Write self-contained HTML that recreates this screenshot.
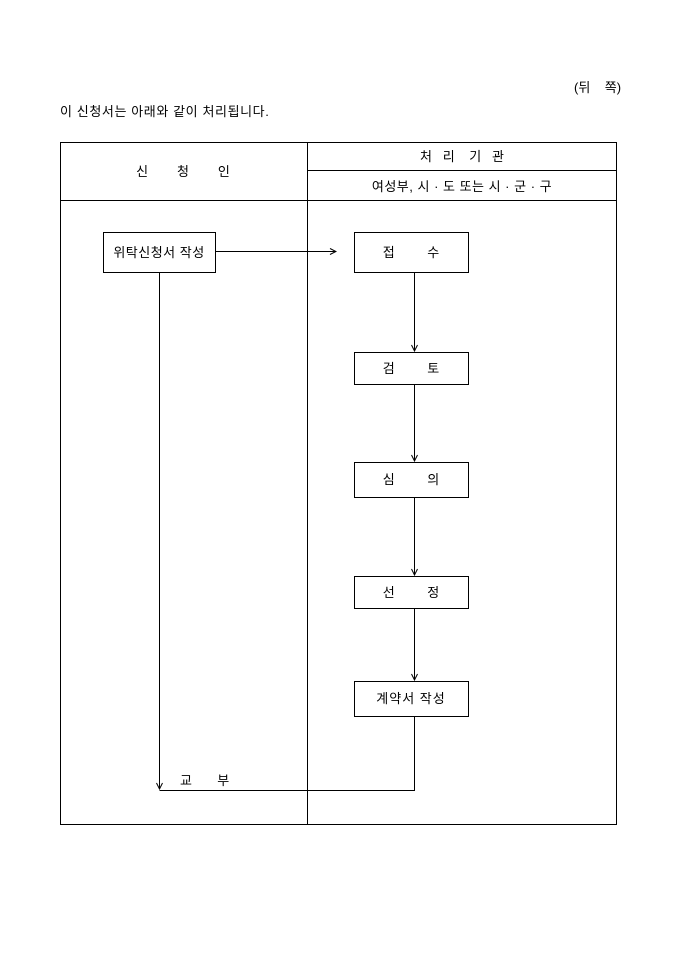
<!DOCTYPE html>
<html><head><meta charset="utf-8"><style>
html,body{margin:0;padding:0;background:#fff;}
svg text{font-family:"Liberation Sans","Noto Sans CJK KR",sans-serif;font-size:13px;fill:#000;}
</style></head><body>
<svg width="680" height="962" viewBox="0 0 680 962" xmlns="http://www.w3.org/2000/svg">
<defs><marker id="a" markerWidth="8" markerHeight="8" refX="7" refY="4" orient="auto" markerUnits="userSpaceOnUse"><path d="M1,1 L7,4 L1,7" fill="none" stroke="#000" stroke-width="1"/></marker></defs>
<text x="574" y="92" xml:space="preserve">(뒤    쪽)</text>
<text x="60" y="116" letter-spacing="0.6">이 신청서는 아래와 같이 처리됩니다.</text>
<g stroke="#000" stroke-width="1" fill="none">
<rect x="60.5" y="142.5" width="556" height="682"/>
<line x1="307.5" y1="142" x2="307.5" y2="824"/>
<line x1="307" y1="170.5" x2="616" y2="170.5"/>
<line x1="60" y1="200.5" x2="616" y2="200.5"/>
<rect x="103.5" y="232.5" width="112" height="40"/>
<rect x="354.5" y="232.5" width="114" height="40"/>
<rect x="354.5" y="352.5" width="114" height="32"/>
<rect x="354.5" y="462.5" width="114" height="35"/>
<rect x="354.5" y="576.5" width="114" height="32"/>
<rect x="354.5" y="681.5" width="114" height="35"/>
<line x1="215" y1="251.5" x2="336" y2="251.5" marker-end="url(#a)"/>
<line x1="414.5" y1="272" x2="414.5" y2="351" marker-end="url(#a)"/>
<line x1="414.5" y1="384" x2="414.5" y2="461" marker-end="url(#a)"/>
<line x1="414.5" y1="497" x2="414.5" y2="575" marker-end="url(#a)"/>
<line x1="414.5" y1="608" x2="414.5" y2="680" marker-end="url(#a)"/>
<polyline points="414.5,716 414.5,790.5 159.5,790.5"/>
<line x1="159.5" y1="272" x2="159.5" y2="789" marker-end="url(#a)"/>
</g>
<text x="183" y="176" text-anchor="middle" xml:space="preserve">신        청        인</text>
<text x="462" y="161" text-anchor="middle" xml:space="preserve">처   리    기   관</text>
<text x="462" y="191" text-anchor="middle" letter-spacing="0.5">여성부, 시 · 도 또는 시 · 군 · 구</text>
<text x="159" y="257" text-anchor="middle" letter-spacing="0.5">위탁신청서 작성</text>
<text x="411" y="257" text-anchor="middle" xml:space="preserve">접         수</text>
<text x="411" y="373" text-anchor="middle" xml:space="preserve">검         토</text>
<text x="411" y="484" text-anchor="middle" xml:space="preserve">심         의</text>
<text x="411" y="597" text-anchor="middle" xml:space="preserve">선         정</text>
<text x="411" y="703" text-anchor="middle" letter-spacing="1">계약서 작성</text>
<text x="180" y="785" xml:space="preserve">교       부</text>
</svg>
</body></html>
